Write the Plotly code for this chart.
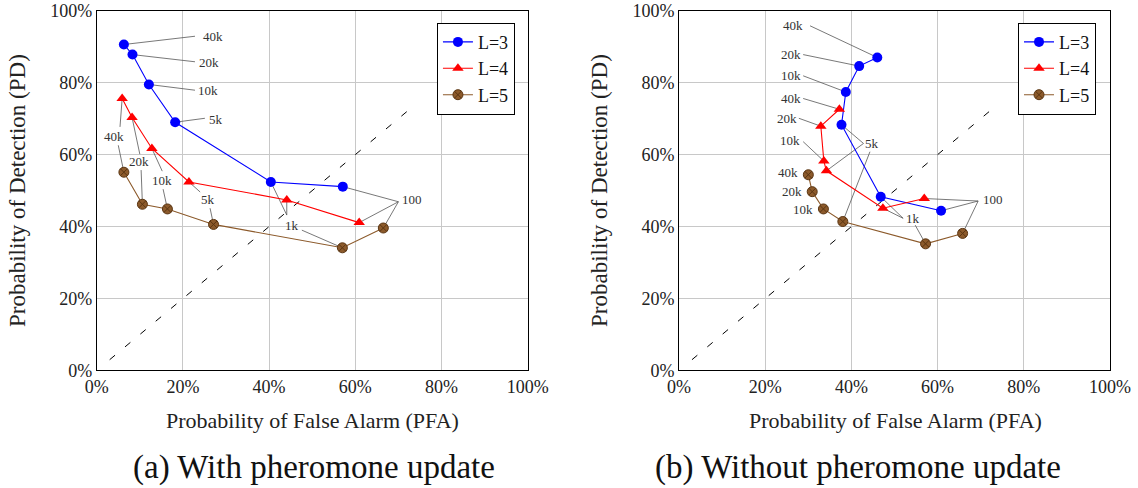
import plotly.graph_objects as go

# values in percent; points ordered by number of iterations
iters = ["40k", "20k", "10k", "5k", "1k", "100"]

# (a) with pheromone update
a_l3_pfa = [6.3, 8.3, 12.1, 18.2, 40.4, 57.1]
a_l3_pd = [90.6, 87.8, 79.5, 69.0, 52.4, 51.1]
a_l4_pfa = [5.9, 8.2, 12.8, 21.4, 44.1, 60.9]
a_l4_pd = [75.6, 70.3, 61.7, 52.4, 47.4, 41.1]
a_l5_pfa = [6.3, 10.6, 16.4, 27.1, 57.0, 66.5]
a_l5_pd = [55.1, 46.2, 44.9, 40.6, 34.1, 39.6]

# (b) without pheromone update
b_l3_pfa = [46.0, 41.8, 38.7, 37.7, 46.8, 60.8]
b_l3_pd = [87.0, 84.6, 77.4, 68.3, 48.3, 44.4]
b_l4_pfa = [37.2, 32.9, 33.6, 34.2, 47.3, 56.9]
b_l4_pd = [72.6, 67.9, 58.2, 55.5, 45.1, 47.8]
b_l5_pfa = [30.0, 30.9, 33.5, 38.0, 57.2, 65.8]
b_l5_pd = [54.4, 49.7, 44.9, 41.4, 35.2, 38.1]

chance_line = [3, 73]

FONT = "'Liberation Serif', 'DejaVu Serif', serif"
BROWN = "#8c5a2b"

styles = {
    "L3": dict(name="L=3", line=dict(color="#0000ff", width=1.1),
               marker=dict(symbol="circle", size=10, color="#0000ff")),
    "L4": dict(name="L=4", line=dict(color="#ff0000", width=1.1),
               marker=dict(symbol="triangle-up", size=10, color="#ff0000")),
    "L5": dict(name="L=5", line=dict(color=BROWN, width=1.1),
               marker=dict(symbol="circle-x", size=10, color=BROWN,
                           line=dict(color="#5a3512", width=1))),
}

panels = [
    dict(xa="x", ya="y", legend="legend",
         data={"L3": (a_l3_pfa, a_l3_pd), "L4": (a_l4_pfa, a_l4_pd), "L5": (a_l5_pfa, a_l5_pd)},
         labels=[
             ("40k", 27.0, 92.9, [((22.8, 92.9), "L3", 0)]),
             ("20k", 26.1, 85.7, [((22.8, 85.8), "L3", 1)]),
             ("10k", 25.9, 77.9, [((22.8, 77.9), "L3", 2)]),
             ("5k", 27.7, 69.8, [((25.1, 70.1), "L3", 3)]),
             ("40k", 4.0, 64.9, [((5.4, 67.7), "L4", 0), ((5.0, 62.6), "L5", 0)]),
             ("20k", 9.9, 58.0, [((10.0, 60.1), "L4", 1), ((10.3, 55.7), "L5", 1)]),
             ("10k", 15.1, 52.9, [((15.2, 55.4), "L4", 2), ((15.4, 50.4), "L5", 2)]),
             ("5k", 25.9, 47.4, [((24.0, 49.6), "L4", 3), ((26.3, 45.1), "L5", 3)]),
             ("1k", 45.2, 40.4, [((44.1, 43.2), "L3", 4), ((44.1, 43.2), "L4", 4), ((47.6, 39.0), "L5", 4)]),
             ("100", 73.1, 47.4, [((70.0, 46.9), "L3", 5), ((70.0, 46.9), "L4", 5), ((70.0, 46.9), "L5", 5)]),
         ]),
    dict(xa="x2", ya="y2", legend="legend2",
         data={"L3": (b_l3_pfa, b_l3_pd), "L4": (b_l4_pfa, b_l4_pd), "L5": (b_l5_pfa, b_l5_pd)},
         labels=[
             ("40k", 26.5, 95.8, [((30.4, 95.8), "L3", 0)]),
             ("20k", 25.9, 87.8, [((28.8, 87.8), "L3", 1)]),
             ("10k", 25.9, 81.9, [((28.8, 81.9), "L3", 2)]),
             ("40k", 25.9, 75.6, [((28.8, 75.6), "L4", 0)]),
             ("20k", 25.0, 70.1, [((27.8, 70.1), "L4", 1)]),
             ("10k", 25.8, 64.0, [((28.8, 63.6), "L4", 2)]),
             ("40k", 25.2, 54.9, []),
             ("20k", 26.3, 49.7, []),
             ("10k", 28.8, 44.8, []),
             ("5k", 44.7, 63.1, [((42.8, 63.1), "L3", 3), ((42.8, 63.1), "L4", 3), ((44.3, 60.8), "L5", 3)]),
             ("1k", 54.4, 42.3, [((52.0, 42.3), "L3", 4), ((52.0, 42.3), "L4", 4), ((54.8, 40.4), "L5", 4)]),
             ("100", 72.9, 47.4, [((69.4, 47.1), "L3", 5), ((69.4, 47.1), "L4", 5), ((69.4, 47.1), "L5", 5)]),
         ]),
]

fig = go.Figure()
annotations = []

for p in panels:
    # chance diagonal
    fig.add_trace(go.Scatter(x=chance_line, y=chance_line, mode="lines",
                             line=dict(color="black", width=1, dash="7px,13px"),
                             xaxis=p["xa"], yaxis=p["ya"], showlegend=False, hoverinfo="skip"))
    # leader lines from labels to the points
    for text, tx, ty, pins in p["labels"]:
        for (lx, ly), key, i in pins:
            px, py = p["data"][key]
            fig.add_trace(go.Scatter(x=[lx, px[i]], y=[ly, py[i]], mode="lines",
                                     line=dict(color="#555555", width=0.8),
                                     xaxis=p["xa"], yaxis=p["ya"], showlegend=False, hoverinfo="skip"))
        annotations.append(dict(x=tx, y=ty, xref=p["xa"], yref=p["ya"], text=text, showarrow=False,
                                xanchor="center", yanchor="middle",
                                font=dict(family=FONT, size=13, color="#333333")))
    for key in ["L3", "L4", "L5"]:
        px, py = p["data"][key]
        fig.add_trace(go.Scatter(x=px, y=py, mode="lines+markers", xaxis=p["xa"], yaxis=p["ya"],
                                 legend=p["legend"], text=iters, **styles[key]))

axis_common = dict(range=[0, 100], ticksuffix="%", dtick=20, showgrid=True, gridcolor="#c8c8c8",
                   gridwidth=1, showline=True, linecolor="black", linewidth=1, mirror=True,
                   zeroline=False, ticks="", tickfont=dict(family=FONT, size=18, color="#222"),
                   ticklabeloverflow="allow", automargin=False)

for xt, cx, cap_x, cap in [(0.2750, 0.0158, 0.2755, "(a) With pheromone update"),
                           (0.7865, 0.5272, 0.7540, "(b) Without pheromone update")]:
    annotations.append(dict(x=xt, y=0.1393, xref="paper", yref="paper", text="Probability of False Alarm (PFA)",
                            xanchor="center", yanchor="middle", showarrow=False,
                            font=dict(family=FONT, size=22, color="#222")))
    annotations.append(dict(x=cx, y=0.6107, xref="paper", yref="paper", text="Probability of Detection (PD)",
                            xanchor="center", yanchor="middle", textangle=-90, showarrow=False,
                            font=dict(family=FONT, size=23, color="#222")))
    annotations.append(dict(x=cap_x, y=0.0430, xref="paper", yref="paper", text=cap,
                            xanchor="center", yanchor="middle", showarrow=False,
                            font=dict(family=FONT, size=33, color="#111")))

legend_common = dict(xanchor="right", yanchor="top", bgcolor="white", bordercolor="black", borderwidth=1,
                     font=dict(family=FONT, size=18, color="#111"), tracegroupgap=0,
                     entrywidth=50, entrywidthmode="pixels")

fig.update_layout(
    width=1138, height=488,
    margin=dict(l=0, r=0, t=0, b=0),
    paper_bgcolor="white", plot_bgcolor="white",
    xaxis=dict(domain=[0.0850, 0.4637], anchor="y", **axis_common),
    yaxis=dict(domain=[0.2408, 0.9781], anchor="x", **axis_common),
    xaxis2=dict(domain=[0.5967, 0.9754], anchor="y2", **axis_common),
    yaxis2=dict(domain=[0.2408, 0.9781], anchor="x2", **axis_common),
    legend=dict(x=0.4525, y=0.9535, **legend_common),
    legend2=dict(x=0.9631, y=0.9535, **legend_common),
    annotations=annotations,
    hovermode=False,
)

# drop the default page margin so the figure sits at the window's corner
fig.write_html("out.html", config={"displayModeBar": False},
               post_script="document.body.style.margin='0';")
